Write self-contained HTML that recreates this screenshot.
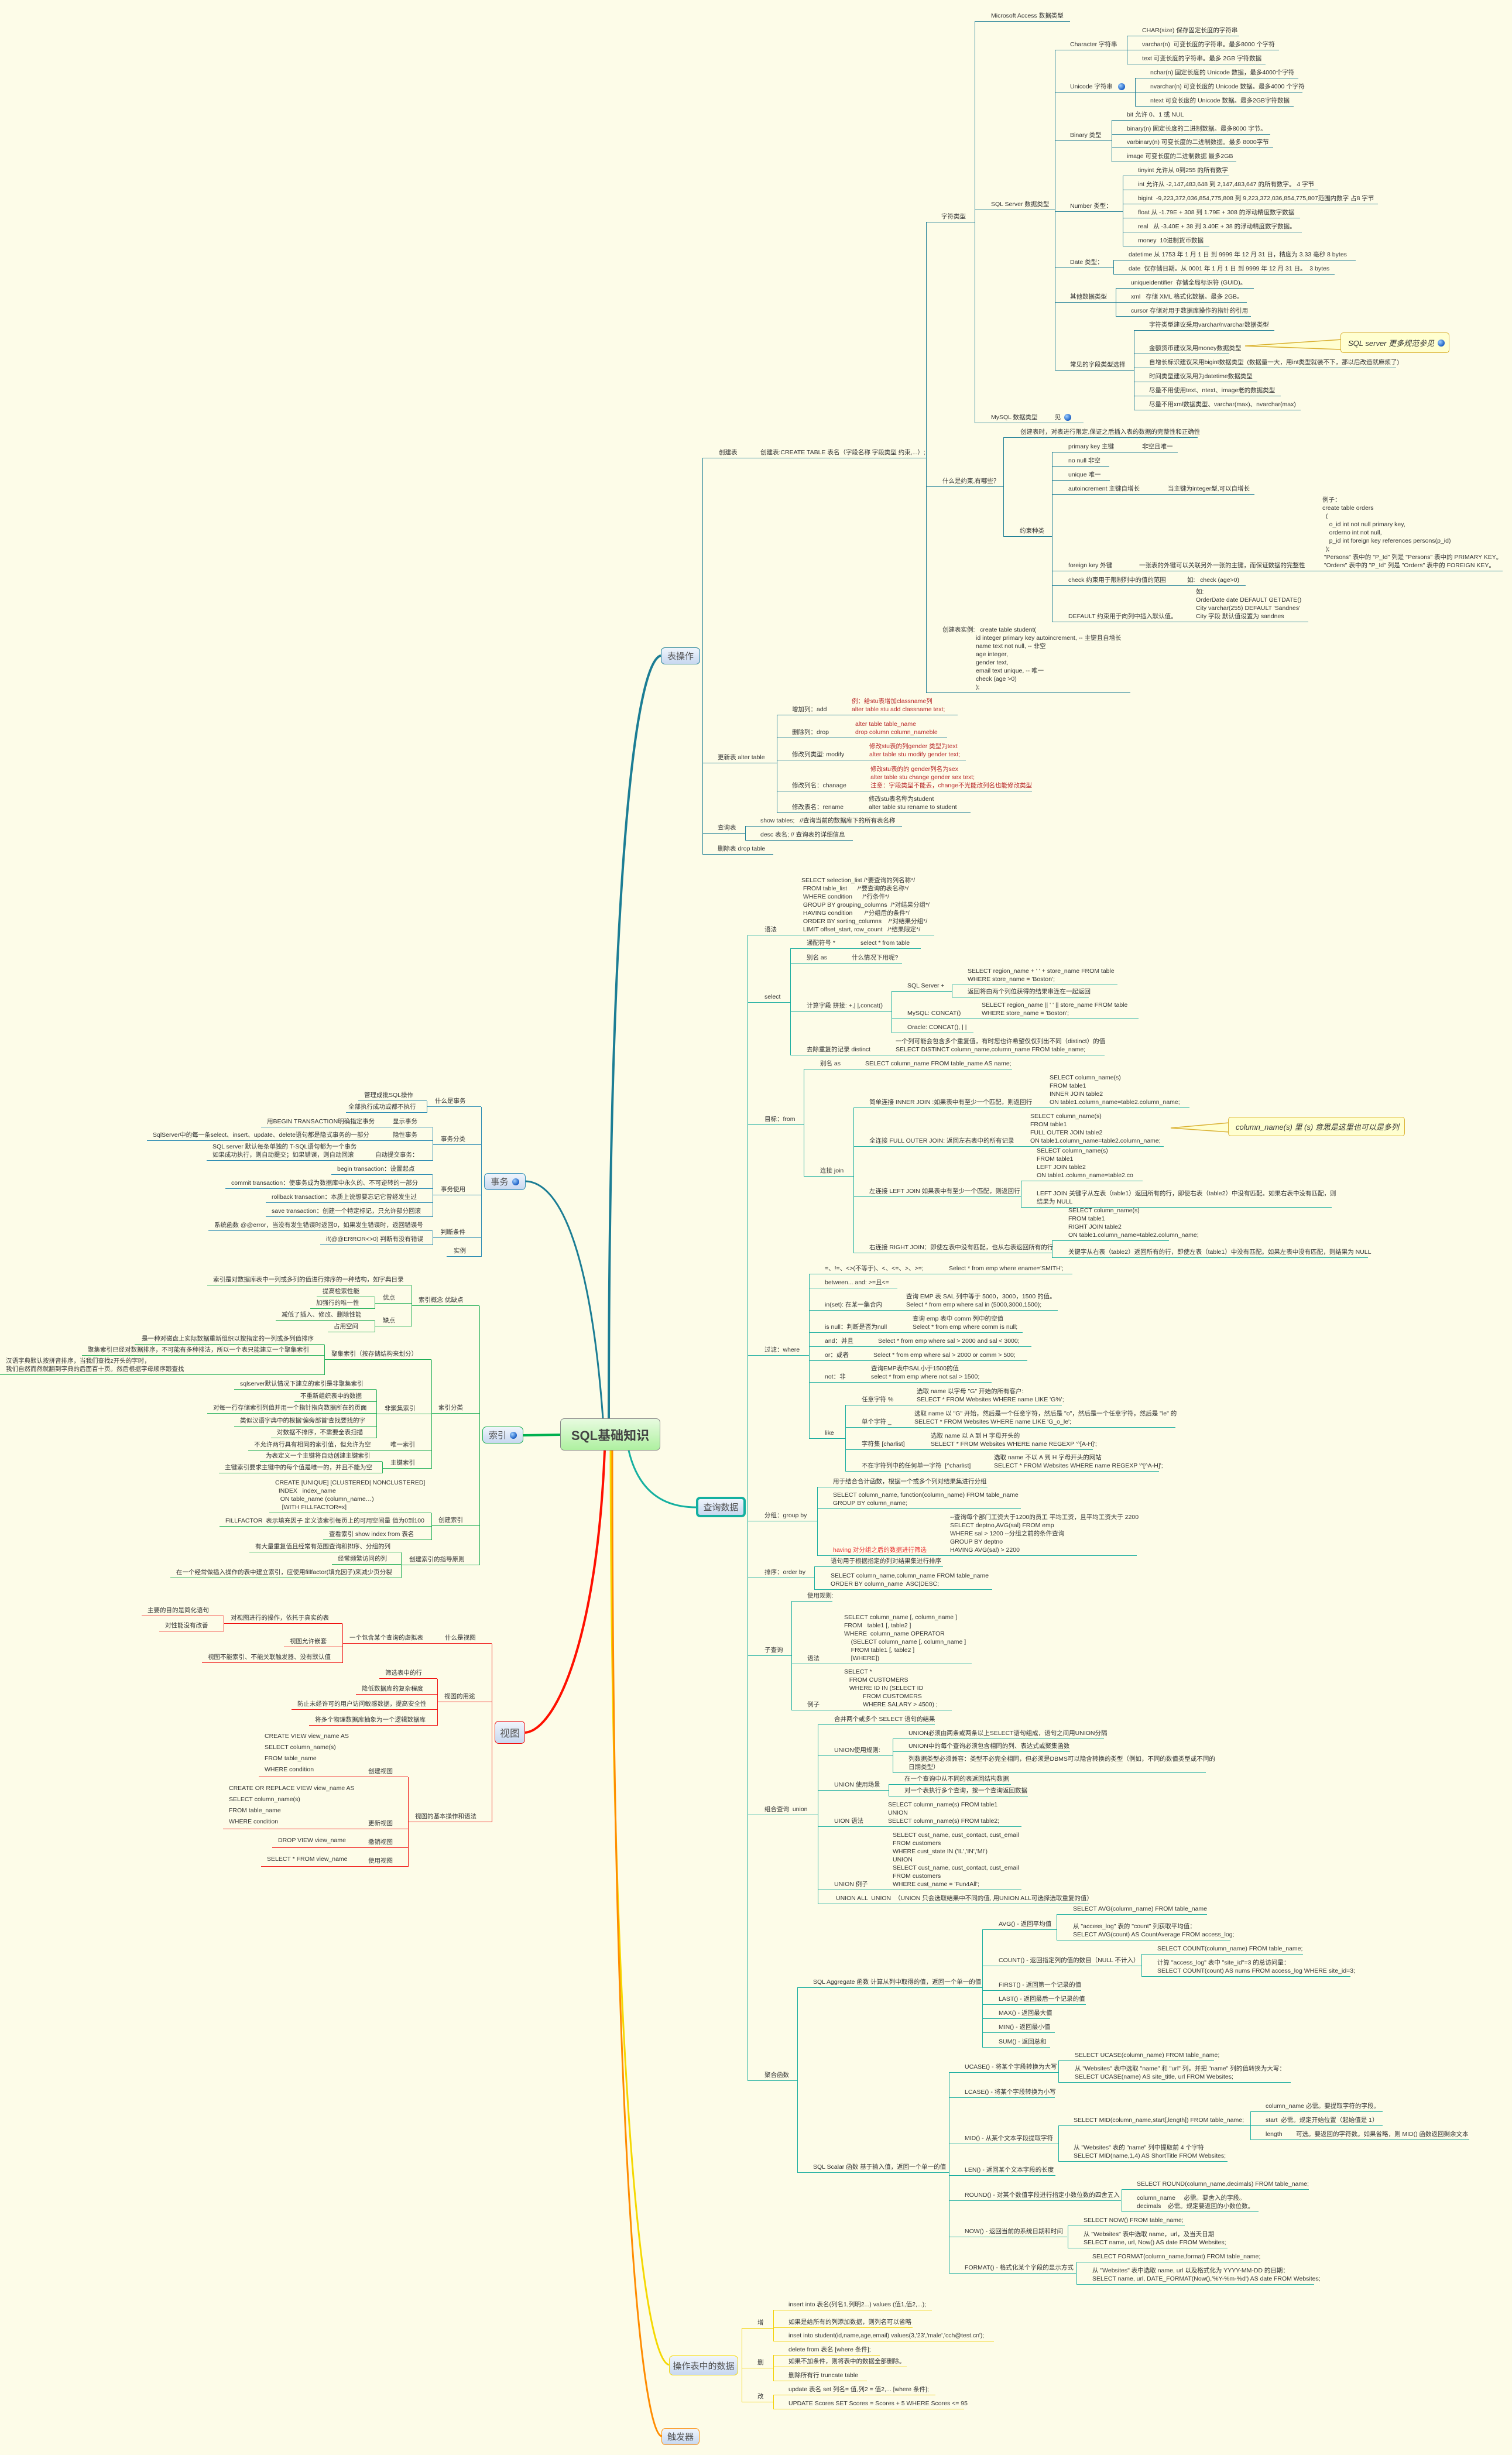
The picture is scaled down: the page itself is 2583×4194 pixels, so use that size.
<!DOCTYPE html>
<html><head><meta charset="utf-8">
<style>
html,body{margin:0;padding:0}
body{width:2583px;height:4194px;position:relative;background:#fdfce8;font-family:"Liberation Sans","Noto Sans CJK SC",sans-serif;color:#333;overflow:hidden}
.l{position:absolute;transform:translateY(-100%);border-bottom:1.5px solid;padding:0 0 2px 26px;white-space:pre;box-sizing:border-box;line-height:14px;font-size:10.5px}
.q{padding-left:10px}
.v{position:absolute;border-left:1.5px solid;width:0}
.b{position:absolute;bottom:2px;white-space:pre;line-height:14px}
.A .l,.A .v{border-color:#1e7e96}
.B .l,.B .v{border-color:#2a8bb3}
.C .l,.C .v{border-color:#1fae56}
.D .l,.D .v{border-color:#f01010}
.E .l,.E .v{border-color:#19ad9f}
.F .l,.F .v{border-color:#f2cf00}
.red{color:#b8282a}
.D .big{font-size:10.5px;line-height:19px}
.node{position:absolute;box-sizing:border-box;border-radius:7px;background:linear-gradient(#f0f5fc,#c8d8f0);font-size:15px;color:#555;display:flex;align-items:center;justify-content:center;white-space:nowrap}
.g{display:inline-block;width:12px;height:12px;border-radius:50%;background:radial-gradient(circle at 35% 35%,#9fd0ff,#1b5fc4 70%);vertical-align:middle;margin-left:6px}
.call{position:absolute;box-sizing:border-box;background:#ffffd0;border:1.5px solid #d9b030;border-radius:5px;font-style:italic;font-size:13px;display:flex;align-items:center;padding-left:12px;white-space:nowrap}
</style></head><body>

<svg width="2583" height="4194" style="position:absolute;left:0;top:0">
<path d="M1040,2423 C1040,1500 1085,1130 1129,1120" stroke="#1b7d94" stroke-width="4" fill="none"/>
<path d="M1030,2423 C1010,2150 960,2020 898,2018" stroke="#1b7d94" stroke-width="3" fill="none"/>
<path d="M957,2451 L894,2452" stroke="#00b050" stroke-width="4" fill="none"/>
<path d="M1033,2478 C1020,2800 950,2955 897,2960" stroke="#ff1000" stroke-width="4" fill="none"/>
<path d="M1043,2478 C1045,3500 1095,4030 1143,4040" stroke="#f5d800" stroke-width="3" fill="none"/>
<path d="M1046,2478 C1046,3600 1092,4150 1130,4162" stroke="#ff8c00" stroke-width="3" fill="none"/>
<path d="M1074,2478 C1090,2545 1130,2575 1189,2575" stroke="#14b0a0" stroke-width="3" fill="none"/>
<path d="M2292,580 L2127,591 L2292,597 Z" fill="#ffffd0" stroke="#d9b030" stroke-width="1.5"/>
<path d="M2100,1918 L2000,1927 L2100,1934 Z" fill="#ffffd0" stroke="#d9b030" stroke-width="1.5"/>
</svg>

<!-- nodes -->
<div class="node" style="left:957px;top:2423px;width:171px;height:55px;background:linear-gradient(#e8fbe0,#aef0a0);border:1.5px solid #888;font-size:22px;font-weight:bold;color:#444">SQL基础知识</div>
<div class="node" style="left:1129px;top:1106px;width:67px;height:29px;border:1.5px solid #1e7e96">表操作</div>
<div class="node" style="left:827px;top:2004px;width:71px;height:29px;border:1.5px solid #2a8bb3">事务<span class="g"></span></div>
<div class="node" style="left:824px;top:2437px;width:70px;height:29px;border:1.5px solid #1fae56">索引<span class="g"></span></div>
<div class="node" style="left:845px;top:2940px;width:52px;height:39px;border:1.5px solid #f01010;font-size:17px">视图</div>
<div class="node" style="left:1189px;top:2557px;width:85px;height:35px;border:4px solid #14b0a0">查询数据</div>
<div class="node" style="left:1143px;top:4024px;width:118px;height:34px;border:1.5px solid #f5d800">操作表中的数据</div>
<div class="node" style="left:1130px;top:4148px;width:65px;height:29px;border:1.5px solid #ff8c00">触发器</div>

<div class="call" style="left:2290px;top:568px;width:186px;height:35px">SQL server 更多规范参见<span class="g"></span></div>
<div class="call" style="left:2098px;top:1908px;width:302px;height:33px">column_name(s) 里 (s) 意思是这里也可以是多列</div>

<!-- ===== A 表操作 ===== -->
<div class="A">
<div class="v" style="left:1200px;top:783px;height:677px"></div>
<div class="l" style="left:1200px;top:783px;width:73px;padding-left:28px">创建表</div>
<div class="l" style="left:1200px;top:1304px;width:127px">更新表 alter table</div>
<div class="l" style="left:1200px;top:1424px;width:73px">查询表</div>
<div class="l" style="left:1200px;top:1460px;width:121px">删除表 drop table</div>
<div class="v" style="left:1273px;top:1412px;height:24px"></div>
<div class="l" style="left:1273px;top:1412px;width:268px">show tables;   //查询当前的数据库下的所有表名称</div>
<div class="l" style="left:1273px;top:1436px;width:184px">desc 表名; // 查询表的详细信息</div>
<div class="l" style="left:1273px;top:783px;width:309px">创建表:CREATE TABLE 表名（字段名称 字段类型 约束,...）;</div>
<div class="v" style="left:1582px;top:380px;height:804px"></div>
<div class="l" style="left:1582px;top:380px;width:83px">字符类型</div>
<div class="l" style="left:1582px;top:832px;width:132px;padding-left:28px">什么是约束,有哪些？</div>
<div class="l" style="left:1582px;top:1184px;width:349px;padding-left:28px">创建表实例:   create table student(
<span style="padding-left:57px">id integer primary key autoincrement, -- 主键且自增长</span>
<span style="padding-left:57px">name text not null, -- 非空</span>
<span style="padding-left:57px">age integer,</span>
<span style="padding-left:57px">gender text,</span>
<span style="padding-left:57px">email text unique, -- 唯一</span>
<span style="padding-left:57px">check (age &gt;0)</span>
<span style="padding-left:57px">);</span></div>
<div class="v" style="left:1665px;top:37px;height:686px"></div>
<div class="l" style="left:1665px;top:37px;width:163px;padding-left:28px">Microsoft Access 数据类型</div>
<div class="l" style="left:1665px;top:359px;width:137px;padding-left:28px">SQL Server 数据类型</div>
<div class="l" style="left:1665px;top:723px;width:186px;padding-left:28px">MySQL 数据类型          见<span class="g"></span></div>
<div class="v" style="left:1802px;top:86px;height:547px"></div>
<div class="l" style="left:1802px;top:86px;width:123px">Character 字符串</div>
<div class="l" style="left:1802px;top:158px;width:137px">Unicode 字符串 <span class="g"></span></div>
<div class="l" style="left:1802px;top:241px;width:97px">Binary 类型</div>
<div class="l" style="left:1802px;top:362px;width:116px">Number 类型：</div>
<div class="l" style="left:1802px;top:458px;width:100px">Date 类型：</div>
<div class="l" style="left:1802px;top:517px;width:104px">其他数据类型</div>
<div class="l" style="left:1802px;top:633px;width:135px">常见的字段类型选择</div>
<div class="v" style="left:1925px;top:62px;height:48px"></div>
<div class="l" style="left:1925px;top:62px;width:192px">CHAR(size) 保存固定长度的字符串</div>
<div class="l" style="left:1925px;top:86px;width:260px">varchar(n)  可变长度的字符串。最多8000 个字符</div>
<div class="l" style="left:1925px;top:110px;width:237px">text 可变长度的字符串。最多 2GB 字符数据</div>
<div class="v" style="left:1939px;top:134px;height:48px"></div>
<div class="l" style="left:1939px;top:134px;width:279px">nchar(n) 固定长度的 Unicode 数据，最多4000个字符</div>
<div class="l" style="left:1939px;top:158px;width:286px">nvarchar(n) 可变长度的 Unicode 数据。最多4000 个字符</div>
<div class="l" style="left:1939px;top:182px;width:271px">ntext 可变长度的 Unicode 数据。最多2GB字符数据</div>
<div class="v" style="left:1899px;top:206px;height:71px"></div>
<div class="l" style="left:1899px;top:206px;width:137px">bit 允许 0、1 或 NUL</div>
<div class="l" style="left:1899px;top:230px;width:271px">binary(n) 固定长度的二进制数据。最多8000 字节。</div>
<div class="l" style="left:1899px;top:253px;width:276px">varbinary(n) 可变长度的二进制数据。最多 8000字节</div>
<div class="l" style="left:1899px;top:277px;width:213px">image 可变长度的二进制数据 最多2GB</div>
<div class="v" style="left:1918px;top:301px;height:120px"></div>
<div class="l" style="left:1918px;top:301px;width:182px">tinyint 允许从 0到255 的所有数字</div>
<div class="l" style="left:1918px;top:325px;width:334px">int 允许从 -2,147,483,648 到 2,147,483,647 的所有数字。 4 字节</div>
<div class="l" style="left:1918px;top:349px;width:436px">bigint  -9,223,372,036,854,775,808 到 9,223,372,036,854,775,807范围内数字 占8 字节</div>
<div class="l" style="left:1918px;top:373px;width:303px">float 从 -1.79E + 308 到 1.79E + 308 的浮动精度数字数据</div>
<div class="l" style="left:1918px;top:397px;width:306px">real   从 -3.40E + 38 到 3.40E + 38 的浮动精度数字数据。</div>
<div class="l" style="left:1918px;top:421px;width:148px">money  10进制货币数据</div>
<div class="v" style="left:1902px;top:445px;height:24px"></div>
<div class="l" style="left:1902px;top:445px;width:414px">datetime 从 1753 年 1 月 1 日 到 9999 年 12 月 31 日，精度为 3.33 毫秒 8 bytes</div>
<div class="l" style="left:1902px;top:469px;width:378px">date  仅存储日期。从 0001 年 1 月 1 日 到 9999 年 12 月 31 日。  3 bytes</div>
<div class="v" style="left:1906px;top:493px;height:48px"></div>
<div class="l" style="left:1906px;top:493px;width:236px">uniqueidentifier  存储全局标识符 (GUID)。</div>
<div class="l" style="left:1906px;top:517px;width:224px">xml   存储 XML 格式化数据。最多 2GB。</div>
<div class="l" style="left:1906px;top:541px;width:231px">cursor 存储对用于数据库操作的指针的引用</div>
<div class="v" style="left:1937px;top:565px;height:136px"></div>
<div class="l" style="left:1937px;top:565px;width:240px">字符类型建议采用varchar/nvarchar数据类型</div>
<div class="l" style="left:1937px;top:605px;width:163px">金额货币建议采用money数据类型</div>
<div class="l" style="left:1937px;top:629px;width:448px">自增长标识建议采用bigint数据类型  (数据量一大，用int类型就装不下，那以后改造就麻烦了)</div>
<div class="l" style="left:1937px;top:653px;width:211px">时间类型建议采用为datetime数据类型</div>
<div class="l" style="left:1937px;top:677px;width:251px">尽量不用使用text、ntext、image老的数据类型</div>
<div class="l" style="left:1937px;top:701px;width:285px">尽量不用xml数据类型、varchar(max)、nvarchar(max)</div>
<div class="v" style="left:1714px;top:748px;height:169px"></div>
<div class="l" style="left:1714px;top:748px;width:332px;padding-left:29px">创建表时，对表进行限定,保证之后插入表的数据的完整性和正确性</div>
<div class="l" style="left:1714px;top:917px;width:83px;padding-left:28px">约束种类</div>
<div class="v" style="left:1797px;top:773px;height:290px"></div>
<div class="l" style="left:1797px;top:773px;width:215px;padding-left:28px">primary key 主键<span class="b" style="left:154px">非空且唯一</span></div>
<div class="l" style="left:1797px;top:797px;width:98px;padding-left:28px">no null 非空</div>
<div class="l" style="left:1797px;top:821px;width:99px;padding-left:28px">unique 唯一</div>
<div class="l" style="left:1797px;top:845px;width:346px;padding-left:28px">autoincrement 主键自增长<span class="b" style="left:198px">当主键为integer型,可以自增长</span></div>
<div class="l" style="left:1797px;top:976px;width:770px;padding-left:28px">foreign key 外键<span class="b" style="left:149px">一张表的外键可以关联另外一张的主键，而保证数据的完整性</span><span class="b" style="left:462px">例子：
create table orders
  (
    o_id int not null primary key,
    orderno int not null,
    p_id int foreign key references persons(p_id)
  );
 "Persons" 表中的 "P_Id" 列是 "Persons" 表中的 PRIMARY KEY。
 "Orders" 表中的 "P_Id" 列是 "Orders" 表中的 FOREIGN KEY。</span></div>
<div class="l" style="left:1797px;top:1001px;width:331px;padding-left:28px">check 约束用于限制列中的值的范围<span class="b" style="left:231px">如:   check (age&gt;0)</span></div>
<div class="l" style="left:1797px;top:1063px;width:438px;padding-left:28px">DEFAULT 约束用于向列中插入默认值。<span class="b" style="left:246px">如:
OrderDate date DEFAULT GETDATE()
City varchar(255) DEFAULT 'Sandnes'
City 字段 默认值设置为 sandnes</span></div>
<div class="v" style="left:1327px;top:1222px;height:167px"></div>
<div class="l" style="left:1327px;top:1222px;width:309px">增加列：add<span class="b red" style="left:128px">例：给stu表增加classname列
alter table stu add classname text;</span></div>
<div class="l" style="left:1327px;top:1261px;width:291px">删除列：drop<span class="b red" style="left:134px">alter table table_name
drop column column_nameble</span></div>
<div class="l" style="left:1327px;top:1299px;width:323px">修改列类型: modify<span class="b red" style="left:158px">修改stu表的列gender 类型为text
alter table stu modify gender text;</span></div>
<div class="l" style="left:1327px;top:1352px;width:436px">修改列名：chanage<span class="b red" style="left:160px">修改stu表的的 gender列名为sex
alter table stu change gender sex text;
注意：字段类型不能丢，change不光能改列名也能修改类型</span></div>
<div class="l" style="left:1327px;top:1389px;width:331px">修改表名：rename<span class="b" style="left:157px">修改stu表名称为student
alter table stu rename to student</span></div>
</div>

<!-- ===== B 事务 ===== -->
<div class="B">
<div class="v" style="left:822px;top:1891px;height:256px"></div>
<div class="l q" style="left:729px;top:1891px;width:93px;padding-left:14px">什么是事务</div>
<div class="v" style="left:729px;top:1881px;height:20px"></div>
<div class="l q" style="left:612px;top:1881px;width:117px">管理成批SQL操作</div>
<div class="l q" style="left:591px;top:1901px;width:138px;padding-left:4px">全部执行成功或都不执行</div>
<div class="l q" style="left:739px;top:1956px;width:83px;padding-left:14px">事务分类</div>
<div class="v" style="left:739px;top:1926px;height:57px"></div>
<div class="l q" style="left:446px;top:1926px;width:293px">用BEGIN TRANSACTION明确指定事务<span class="b" style="left:225px">显示事务</span></div>
<div class="l q" style="left:251px;top:1949px;width:488px">SqlServer中的每一条select、insert、update、delete语句都是隐式事务的一部分<span class="b" style="left:420px">隐性事务</span></div>
<div class="l q" style="left:353px;top:1983px;width:386px">SQL server 默认每条单独的 T-SQL语句都为一个事务
如果成功执行，则自动提交；如果错误，则自动回滚<span class="b" style="left:288px">自动提交事务：</span></div>
<div class="l q" style="left:739px;top:2042px;width:83px;padding-left:14px">事务使用</div>
<div class="v" style="left:739px;top:2007px;height:72px"></div>
<div class="l q" style="left:566px;top:2007px;width:173px">begin transaction：设置起点</div>
<div class="l q" style="left:385px;top:2031px;width:354px">commit transaction：使事务成为数据库中永久的、不可逆转的一部分</div>
<div class="l q" style="left:454px;top:2055px;width:285px">rollback transaction：本质上说想要忘记它曾经发生过</div>
<div class="l q" style="left:454px;top:2079px;width:285px">save transaction：创建一个特定标记，只允许部分回滚</div>
<div class="l q" style="left:739px;top:2115px;width:83px;padding-left:14px">判断条件</div>
<div class="v" style="left:739px;top:2103px;height:24px"></div>
<div class="l q" style="left:356px;top:2103px;width:383px">系统函数 @@error，当没有发生错误时返回0，如果发生错误时，返回错误号</div>
<div class="l q" style="left:547px;top:2127px;width:192px">if(@@ERROR&lt;&gt;0) 判断有没有错误</div>
<div class="l q" style="left:763px;top:2147px;width:59px;padding-left:12px">实例</div>
</div>

<!-- ===== C 索引 ===== -->
<div class="C">
<div class="v" style="left:819px;top:2231px;height:443px"></div>
<div class="l q" style="left:703px;top:2231px;width:116px;padding-left:12px">索引概念 优缺点</div>
<div class="v" style="left:703px;top:2196px;height:70px"></div>
<div class="l q" style="left:354px;top:2196px;width:349px">索引是对数据库表中一列或多列的值进行排序的一种结构，如字典目录</div>
<div class="l q" style="left:640px;top:2227px;width:63px;padding-left:14px">优点</div>
<div class="v" style="left:640px;top:2216px;height:20px"></div>
<div class="l q" style="left:541px;top:2216px;width:99px">提高检索性能</div>
<div class="l q" style="left:530px;top:2236px;width:110px">加强行的唯一性</div>
<div class="l q" style="left:640px;top:2266px;width:63px;padding-left:14px">缺点</div>
<div class="v" style="left:640px;top:2256px;height:20px"></div>
<div class="l q" style="left:471px;top:2256px;width:169px">减低了插入、修改、删除性能</div>
<div class="l q" style="left:560px;top:2276px;width:80px">占用空间</div>
<div class="l q" style="left:737px;top:2415px;width:82px;padding-left:12px">索引分类</div>
<div class="v" style="left:737px;top:2323px;height:186px"></div>
<div class="l q" style="left:554px;top:2323px;width:183px;padding-left:12px">聚集索引（按存储结构来划分）</div>
<div class="v" style="left:554px;top:2297px;height:52px"></div>
<div class="l q" style="left:230px;top:2297px;width:324px;padding-left:12px">是一种对磁盘上实际数据重新组织以按指定的一列或多列值排序</div>
<div class="l q" style="left:140px;top:2316px;width:414px">聚集索引已经对数据排序，不可能有多种排法，所以一个表只能建立一个聚集索引</div>
<div class="l q" style="left:0px;top:2349px;width:554px">汉语字典默认按拼音排序，当我们查找z开头的字时，
我们自然而然就翻到字典的后面百十页。然后根据字母顺序跟查找</div>
<div class="l q" style="left:643px;top:2416px;width:94px;padding-left:14px">非聚集索引</div>
<div class="v" style="left:643px;top:2374px;height:83px"></div>
<div class="l q" style="left:400px;top:2374px;width:243px">sqlserver默认情况下建立的索引是非聚集索引</div>
<div class="l q" style="left:503px;top:2395px;width:140px">不重新组织表中的数据</div>
<div class="l q" style="left:354px;top:2415px;width:289px">对每一行存储索引列值并用一个指针指向数据所在的页面</div>
<div class="l q" style="left:400px;top:2437px;width:243px">类似汉语字典中的根据'偏旁部首'查找要找的字</div>
<div class="l q" style="left:463px;top:2457px;width:180px">对数据不排序，不需要全表扫描</div>
<div class="l q" style="left:424px;top:2478px;width:313px">不允许两行具有相同的索引值，但允许为空<span class="b" style="left:243px">唯一索引</span></div>
<div class="l q" style="left:653px;top:2509px;width:84px;padding-left:14px">主键索引</div>
<div class="v" style="left:653px;top:2497px;height:20px"></div>
<div class="l q" style="left:444px;top:2497px;width:209px">为表定义一个主键将自动创建主键索引</div>
<div class="l q" style="left:374px;top:2517px;width:279px">主键索引要求主键中的每个值是唯一的，并且不能为空</div>
<div class="l q" style="left:737px;top:2607px;width:82px;padding-left:12px">创建索引</div>
<div class="v" style="left:737px;top:2585px;height:46px"></div>
<div class="l q" style="left:460px;top:2585px;width:277px">CREATE [UNIQUE] [CLUSTERED| NONCLUSTERED]
  INDEX   index_name
   ON table_name (column_name…)
    [WITH FILLFACTOR=x]</div>
<div class="l q" style="left:375px;top:2608px;width:362px">FILLFACTOR  表示填充因子 定义该索引每页上的可用空间量 值为0到100</div>
<div class="l q" style="left:552px;top:2631px;width:185px">查看索引 show index from 表名</div>
<div class="l q" style="left:685px;top:2674px;width:134px;padding-left:14px">创建索引的指导原则</div>
<div class="v" style="left:685px;top:2652px;height:44px"></div>
<div class="l q" style="left:426px;top:2652px;width:259px">有大量重复值且经常有范围查询和排序、分组的列</div>
<div class="l q" style="left:567px;top:2673px;width:118px">经常频繁访问的列</div>
<div class="l q" style="left:291px;top:2696px;width:394px">在一个经常做插入操作的表中建立索引，应使用fillfactor(填充因子)来减少页分裂</div>
</div>

<!-- ===== D 视图 ===== -->
<div class="D">
<div class="v" style="left:840px;top:2808px;height:305px"></div>
<div class="l q" style="left:748px;top:2808px;width:92px;padding-left:12px">什么是视图</div>
<div class="l q" style="left:585px;top:2808px;width:163px;padding-left:12px">一个包含某个查询的虚拟表</div>
<div class="v" style="left:585px;top:2774px;height:67px"></div>
<div class="l q" style="left:382px;top:2774px;width:203px;padding-left:12px">对视图进行的操作，依托于真实的表</div>
<div class="v" style="left:382px;top:2761px;height:26px"></div>
<div class="l q" style="left:242px;top:2761px;width:140px">主要的目的是简化语句</div>
<div class="l q" style="left:272px;top:2787px;width:110px">对性能没有改善</div>
<div class="l q" style="left:485px;top:2814px;width:100px">视图允许嵌套</div>
<div class="l q" style="left:345px;top:2841px;width:240px">视图不能索引、不能关联触发器、没有默认值</div>
<div class="l q" style="left:747px;top:2908px;width:93px;padding-left:12px">视图的用途</div>
<div class="v" style="left:747px;top:2868px;height:80px"></div>
<div class="l q" style="left:648px;top:2868px;width:99px">筛选表中的行</div>
<div class="l q" style="left:608px;top:2895px;width:139px">降低数据库的复杂程度</div>
<div class="l q" style="left:498px;top:2921px;width:249px">防止未经许可的用户访问敏感数据，提高安全性</div>
<div class="l q" style="left:528px;top:2948px;width:219px">将多个物理数据库抽象为一个逻辑数据库</div>
<div class="l q" style="left:697px;top:3113px;width:143px;padding-left:12px">视图的基本操作和语法</div>
<div class="v" style="left:697px;top:3036px;height:153px"></div>
<div class="l q big" style="left:442px;top:3036px;width:255px">CREATE VIEW view_name AS
SELECT column_name(s)
FROM table_name
WHERE condition<span class="b" style="left:187px;line-height:14px">创建视图</span></div>
<div class="l q big" style="left:381px;top:3125px;width:316px">CREATE OR REPLACE VIEW view_name AS
SELECT column_name(s)
FROM table_name
WHERE condition<span class="b" style="left:248px;line-height:14px">更新视图</span></div>
<div class="l q big" style="left:465px;top:3157px;width:232px">DROP VIEW view_name<span class="b" style="left:164px;line-height:14px">撤销视图</span></div>
<div class="l q big" style="left:446px;top:3189px;width:251px">SELECT * FROM view_name<span class="b" style="left:183px;line-height:14px">使用视图</span></div>
</div>

<!-- ===== E 查询数据 ===== -->
<div class="E">
<div class="v" style="left:1277px;top:1598px;height:1957px"></div>
<div class="l" style="left:1277px;top:1598px;width:319px;padding-left:29px">语法<span class="b" style="left:92px">SELECT selection_list /*要查询的列名称*/
 FROM table_list      /*要查询的表名称*/
 WHERE condition      /*行条件*/
 GROUP BY grouping_columns  /*对结果分组*/
 HAVING condition       /*分组后的条件*/
 ORDER BY sorting_columns    /*对结果分组*/
 LIMIT offset_start, row_count   /*结果限定*/</span></div>
<div class="l" style="left:1277px;top:1713px;width:73px;padding-left:29px">select</div>
<div class="v" style="left:1350px;top:1621px;height:182px"></div>
<div class="l" style="left:1350px;top:1621px;width:223px;padding-left:28px">通配符号 *<span class="b" style="left:120px">select * from table</span></div>
<div class="l" style="left:1350px;top:1646px;width:191px;padding-left:28px">别名 as<span class="b" style="left:105px">什么情况下用呢?</span></div>
<div class="l" style="left:1350px;top:1728px;width:173px;padding-left:28px">计算字段 拼接: +,| |,concat()</div>
<div class="v" style="left:1523px;top:1694px;height:71px"></div>
<div class="l" style="left:1523px;top:1694px;width:103px;padding-left:27px">SQL Server +</div>
<div class="v" style="left:1626px;top:1683px;height:21px"></div>
<div class="l" style="left:1626px;top:1683px;width:283px;padding-left:27px">SELECT region_name + ' ' + store_name FROM table
WHERE store_name = 'Boston';</div>
<div class="l" style="left:1626px;top:1704px;width:234px;padding-left:27px">返回将由两个列位获得的结果串连在一起返回</div>
<div class="l" style="left:1523px;top:1741px;width:422px;padding-left:27px">MySQL: CONCAT()<span class="b" style="left:154px">SELECT region_name || ' ' || store_name FROM table
WHERE store_name = 'Boston';</span></div>
<div class="l" style="left:1523px;top:1765px;width:140px;padding-left:27px">Oracle: CONCAT(), | |</div>
<div class="l" style="left:1350px;top:1803px;width:537px;padding-left:28px">去除重复的记录 distinct<span class="b" style="left:180px">一个列可能会包含多个重复值，有时您也许希望仅仅列出不同（distinct）的值
SELECT DISTINCT column_name,column_name FROM table_name;</span></div>
<div class="l" style="left:1277px;top:1922px;width:96px;padding-left:29px">目标：from</div>
<div class="v" style="left:1373px;top:1827px;height:183px"></div>
<div class="l" style="left:1373px;top:1827px;width:356px;padding-left:28px">别名 as<span class="b" style="left:105px">SELECT column_name FROM table_name AS name;</span></div>
<div class="l" style="left:1373px;top:2010px;width:85px;padding-left:28px">连接 join</div>
<div class="v" style="left:1458px;top:1893px;height:248px"></div>
<div class="l" style="left:1458px;top:1893px;width:574px;padding-left:27px">简单连接 INNER JOIN :如果表中有至少一个匹配，则返回行<span class="b" style="left:335px">SELECT column_name(s)
FROM table1
INNER JOIN table2
ON table1.column_name=table2.column_name;</span></div>
<div class="l" style="left:1458px;top:1959px;width:530px;padding-left:27px">全连接 FULL OUTER JOIN: 返回左右表中的所有记录<span class="b" style="left:302px">SELECT column_name(s)
FROM table1
FULL OUTER JOIN table2
ON table1.column_name=table2.column_name;</span></div>
<div class="l" style="left:1458px;top:2045px;width:286px;padding-left:27px">左连接 LEFT JOIN 如果表中有至少一个匹配，则返回行</div>
<div class="v" style="left:1744px;top:2018px;height:45px"></div>
<div class="l" style="left:1744px;top:2018px;width:208px;padding-left:27px">SELECT column_name(s)
FROM table1
LEFT JOIN table2
ON table1.column_name=table2.co</div>
<div class="l" style="left:1744px;top:2063px;width:531px;padding-left:27px">LEFT JOIN 关键字从左表（table1）返回所有的行，即使右表（table2）中没有匹配。如果右表中没有匹配，则
结果为 NULL</div>
<div class="l" style="left:1458px;top:2141px;width:339px;padding-left:27px">右连接 RIGHT JOIN：即使左表中没有匹配，也从右表返回所有的行</div>
<div class="v" style="left:1797px;top:2120px;height:29px"></div>
<div class="l" style="left:1797px;top:2120px;width:200px;padding-left:28px">SELECT column_name(s)
FROM table1
RIGHT JOIN table2
ON table1.column_name=table2.column_name;</div>
<div class="l" style="left:1797px;top:2149px;width:540px;padding-left:28px">关键字从右表（table2）返回所有的行，即使左表（table1）中没有匹配。如果左表中没有匹配，则结果为 NULL</div>

<div class="l" style="left:1277px;top:2316px;width:105px;padding-left:29px">过滤：where</div>
<div class="v" style="left:1382px;top:2177px;height:281px"></div>
<div class="l" style="left:1382px;top:2177px;width:450px;padding-left:27px">=、!=、&lt;&gt;(不等于)、&lt;、&lt;=、&gt;、&gt;=;<span class="b" style="left:239px">Select * from emp where ename='SMITH';</span></div>
<div class="l" style="left:1382px;top:2201px;width:151px;padding-left:27px">between... and: &gt;=且&lt;=</div>
<div class="l" style="left:1382px;top:2239px;width:425px;padding-left:27px">in(set): 在某一集合内<span class="b" style="left:166px">查询 EMP 表 SAL 列中等于 5000，3000，1500 的值。
Select * from emp where sal in (5000,3000,1500);</span></div>
<div class="l" style="left:1382px;top:2277px;width:365px;padding-left:27px">is null：判断是否为null<span class="b" style="left:177px">查询 emp 表中 comm 列中的空值
Select * from emp where comm is null;</span></div>
<div class="l" style="left:1382px;top:2301px;width:380px;padding-left:27px">and：并且<span class="b" style="left:118px">Select * from emp where sal &gt; 2000 and sal &lt; 3000;</span></div>
<div class="l" style="left:1382px;top:2325px;width:373px;padding-left:27px">or：或者<span class="b" style="left:110px">Select * from emp where sal &gt; 2000 or comm &gt; 500;</span></div>
<div class="l" style="left:1382px;top:2362px;width:312px;padding-left:27px">not：非<span class="b" style="left:106px">查询EMP表中SAL小于1500的值
select * from emp where not sal &gt; 1500;</span></div>
<div class="l" style="left:1382px;top:2458px;width:62px;padding-left:27px">like</div>
<div class="v" style="left:1444px;top:2401px;height:113px"></div>
<div class="l" style="left:1444px;top:2401px;width:370px;padding-left:28px">任意字符 %<span class="b" style="left:122px">选取 name 以字母 "G" 开始的所有客户:
SELECT * FROM Websites WHERE name LIKE 'G%';</span></div>
<div class="l" style="left:1444px;top:2439px;width:564px;padding-left:28px">单个字符 _<span class="b" style="left:118px">选取 name 以 "G" 开始，然后是一个任意字符，然后是 "o"，然后是一个任意字符，然后是 "le" 的
SELECT * FROM Websites WHERE name LIKE 'G_o_le';</span></div>
<div class="l" style="left:1444px;top:2477px;width:423px;padding-left:28px">字符集 [charlist]<span class="b" style="left:146px">选取 name 以 A 到 H 字母开头的
SELECT * FROM Websites WHERE name REGEXP '^[A-H]';</span></div>
<div class="l" style="left:1444px;top:2514px;width:536px;padding-left:28px">不在字符列中的任何单一字符  [^charlist]<span class="b" style="left:254px">选取 name 不以 A 到 H 字母开头的网站
SELECT * FROM Websites WHERE name REGEXP '^[^A-H]';</span></div>

<div class="l" style="left:1277px;top:2599px;width:119px;padding-left:29px">分组：group by</div>
<div class="v" style="left:1396px;top:2541px;height:117px"></div>
<div class="l" style="left:1396px;top:2541px;width:291px;padding-left:27px">用于结合合计函数，根据一个或多个列对结果集进行分组</div>
<div class="l" style="left:1396px;top:2578px;width:348px;padding-left:27px">SELECT column_name, function(column_name) FROM table_name
GROUP BY column_name;</div>
<div class="l" style="left:1396px;top:2658px;width:546px;padding-left:27px"><span class="red" style="color:#e83030">having 对分组之后的数据进行筛选</span><span class="b" style="left:227px">--查询每个部门工资大于1200的员工 平均工资，且平均工资大于 2200
SELECT deptno,AVG(sal) FROM emp
WHERE sal &gt; 1200 --分组之前的条件查询
GROUP BY deptno
HAVING AVG(sal) &gt; 2200</span></div>
<div class="l" style="left:1277px;top:2696px;width:114px;padding-left:29px">排序：order by</div>
<div class="v" style="left:1391px;top:2677px;height:39px"></div>
<div class="l" style="left:1391px;top:2677px;width:220px;padding-left:28px">语句用于根据指定的列对结果集进行排序</div>
<div class="l" style="left:1391px;top:2716px;width:304px;padding-left:28px">SELECT column_name,column_name FROM table_name
ORDER BY column_name  ASC|DESC;</div>
<div class="l" style="left:1277px;top:2829px;width:75px;padding-left:29px">子查询</div>
<div class="v" style="left:1352px;top:2736px;height:186px"></div>
<div class="l" style="left:1352px;top:2736px;width:70px;padding-left:27px">使用规则:</div>
<div class="l" style="left:1352px;top:2843px;width:308px;padding-left:27px">语法<span class="b" style="left:90px">SELECT column_name [, column_name ]
FROM   table1 [, table2 ]
WHERE  column_name OPERATOR
    (SELECT column_name [, column_name ]
    FROM table1 [, table2 ]
    [WHERE])</span></div>
<div class="l" style="left:1352px;top:2922px;width:274px;padding-left:27px">例子<span class="b" style="left:90px">SELECT *
   FROM CUSTOMERS
   WHERE ID IN (SELECT ID
           FROM CUSTOMERS
           WHERE SALARY &gt; 4500) ;</span></div>
<div class="l" style="left:1277px;top:3101px;width:120px;padding-left:29px">组合查询  union</div>
<div class="v" style="left:1397px;top:2947px;height:306px"></div>
<div class="l" style="left:1397px;top:2947px;width:200px;padding-left:28px">合并两个或多个 SELECT 语句的结果</div>
<div class="l" style="left:1397px;top:3000px;width:128px;padding-left:28px">UNION使用规则:</div>
<div class="v" style="left:1525px;top:2971px;height:58px"></div>
<div class="l" style="left:1525px;top:2971px;width:361px;padding-left:27px">UNION必须由两条或两条以上SELECT语句组成，语句之间用UNION分隔</div>
<div class="l" style="left:1525px;top:2993px;width:303px;padding-left:27px">UNION中的每个查询必须包含相同的列、表达式或聚集函数</div>
<div class="l" style="left:1525px;top:3029px;width:535px;padding-left:27px">列数据类型必须兼容：类型不必完全相同，但必须是DBMS可以隐含转换的类型（例如，不同的数值类型或不同的
日期类型）</div>
<div class="l" style="left:1397px;top:3059px;width:121px;padding-left:28px">UNION 使用场景</div>
<div class="v" style="left:1518px;top:3049px;height:20px"></div>
<div class="l" style="left:1518px;top:3049px;width:209px;padding-left:27px">在一个查询中从不同的表返回结构数据</div>
<div class="l" style="left:1518px;top:3069px;width:238px;padding-left:27px">对一个表执行多个查询，按一个查询返回数据</div>
<div class="l" style="left:1397px;top:3121px;width:348px;padding-left:28px">UION 语法<span class="b" style="left:120px">SELECT column_name(s) FROM table1
UNION
SELECT column_name(s) FROM table2;</span></div>
<div class="l" style="left:1397px;top:3229px;width:348px;padding-left:28px">UNION 例子<span class="b" style="left:128px">SELECT cust_name, cust_contact, cust_email
FROM customers
WHERE cust_state IN ('IL','IN','MI')
UNION
SELECT cust_name, cust_contact, cust_email
FROM customers
WHERE cust_name = 'Fun4All';</span></div>
<div class="l" style="left:1397px;top:3253px;width:464px;padding-left:31px">UNION ALL  UNION  （UNION 只会选取结果中不同的值, 用UNION ALL可选择选取重复的值）</div>

<div class="l" style="left:1277px;top:3555px;width:85px;padding-left:29px">聚合函数</div>
<div class="v" style="left:1362px;top:3396px;height:316px"></div>
<div class="l" style="left:1362px;top:3396px;width:316px;padding-left:27px">SQL Aggregate 函数 计算从列中取得的值，返回一个单一的值</div>
<div class="v" style="left:1678px;top:3297px;height:201px"></div>
<div class="l" style="left:1678px;top:3297px;width:127px;padding-left:28px">AVG() - 返回平均值</div>
<div class="v" style="left:1805px;top:3271px;height:44px"></div>
<div class="l" style="left:1805px;top:3271px;width:257px;padding-left:28px">SELECT AVG(column_name) FROM table_name</div>
<div class="l" style="left:1805px;top:3315px;width:297px;padding-left:28px">从 "access_log" 表的 "count" 列获取平均值：
SELECT AVG(count) AS CountAverage FROM access_log;</div>
<div class="l" style="left:1678px;top:3359px;width:272px;padding-left:28px">COUNT() - 返回指定列的值的数目（NULL 不计入）</div>
<div class="v" style="left:1950px;top:3339px;height:38px"></div>
<div class="l" style="left:1950px;top:3339px;width:276px;padding-left:27px">SELECT COUNT(column_name) FROM table_name;</div>
<div class="l" style="left:1950px;top:3377px;width:357px;padding-left:27px">计算 "access_log" 表中 "site_id"=3 的总访问量：
SELECT COUNT(count) AS nums FROM access_log WHERE site_id=3;</div>
<div class="l" style="left:1678px;top:3401px;width:169px;padding-left:28px">FIRST() - 返回第一个记录的值</div>
<div class="l" style="left:1678px;top:3425px;width:177px;padding-left:28px">LAST() - 返回最后一个记录的值</div>
<div class="l" style="left:1678px;top:3449px;width:116px;padding-left:28px">MAX() - 返回最大值</div>
<div class="l" style="left:1678px;top:3473px;width:124px;padding-left:28px">MIN() - 返回最小值</div>
<div class="l" style="left:1678px;top:3498px;width:116px;padding-left:28px">SUM() - 返回总和</div>
<div class="l" style="left:1362px;top:3712px;width:259px;padding-left:27px">SQL Scalar 函数 基于输入值，返回一个单一的值</div>
<div class="v" style="left:1621px;top:3541px;height:343px"></div>
<div class="l" style="left:1621px;top:3541px;width:187px;padding-left:27px">UCASE() - 将某个字段转换为大写</div>
<div class="v" style="left:1808px;top:3521px;height:37px"></div>
<div class="l" style="left:1808px;top:3521px;width:266px;padding-left:28px">SELECT UCASE(column_name) FROM table_name;</div>
<div class="l" style="left:1808px;top:3558px;width:397px;padding-left:28px">从 "Websites" 表中选取 "name" 和 "url" 列，并把 "name" 列的值转换为大写：
SELECT UCASE(name) AS site_title, url FROM Websites;</div>
<div class="l" style="left:1621px;top:3584px;width:181px;padding-left:27px">LCASE() - 将某个字段转换为小写</div>
<div class="l" style="left:1621px;top:3663px;width:187px;padding-left:27px">MID() - 从某个文本字段提取字符</div>
<div class="v" style="left:1808px;top:3632px;height:61px"></div>
<div class="l" style="left:1808px;top:3632px;width:328px;padding-left:26px">SELECT MID(column_name,start[,length]) FROM table_name;</div>
<div class="v" style="left:2136px;top:3608px;height:48px"></div>
<div class="l" style="left:2136px;top:3608px;width:226px">column_name 必需。要提取字符的字段。</div>
<div class="l" style="left:2136px;top:3632px;width:226px">start  必需。规定开始位置（起始值是 1）</div>
<div class="l" style="left:2136px;top:3656px;width:374px">length        可选。要返回的字符数。如果省略，则 MID() 函数返回剩余文本</div>
<div class="l" style="left:1808px;top:3693px;width:289px;padding-left:26px">从 "Websites" 表的 "name" 列中提取前 4 个字符
SELECT MID(name,1,4) AS ShortTitle FROM Websites;</div>
<div class="l" style="left:1621px;top:3717px;width:182px;padding-left:27px">LEN() - 返回某个文本字段的长度</div>
<div class="l" style="left:1621px;top:3760px;width:294px;padding-left:27px">ROUND() - 对某个数值字段进行指定小数位数的四舍五入</div>
<div class="v" style="left:1916px;top:3741px;height:38px"></div>
<div class="l" style="left:1916px;top:3741px;width:320px">SELECT ROUND(column_name,decimals) FROM table_name;</div>
<div class="l" style="left:1916px;top:3779px;width:234px">column_name     必需。要舍入的字段。
decimals    必需。规定要返回的小数位数。</div>
<div class="l" style="left:1621px;top:3822px;width:202px;padding-left:27px">NOW() - 返回当前的系统日期和时间</div>
<div class="v" style="left:1824px;top:3803px;height:38px"></div>
<div class="l" style="left:1824px;top:3803px;width:200px;padding-left:27px">SELECT NOW() FROM table_name;</div>
<div class="l" style="left:1824px;top:3841px;width:273px;padding-left:27px">从 "Websites" 表中选取 name，url，及当天日期
SELECT name, url, Now() AS date FROM Websites;</div>
<div class="l" style="left:1621px;top:3884px;width:217px;padding-left:27px">FORMAT() - 格式化某个字段的显示方式</div>
<div class="v" style="left:1839px;top:3865px;height:38px"></div>
<div class="l" style="left:1839px;top:3865px;width:314px;padding-left:27px">SELECT FORMAT(column_name,format) FROM table_name;</div>
<div class="l" style="left:1839px;top:3903px;width:406px;padding-left:27px">从 "Websites" 表中选取 name, url 以及格式化为 YYYY-MM-DD 的日期：
SELECT name, url, DATE_FORMAT(Now(),'%Y-%m-%d') AS date FROM Websites;</div>
</div>

<!-- ===== F 操作表中的数据 ===== -->
<div class="F">
<div class="v" style="left:1267px;top:3978px;height:126px"></div>
<div class="l" style="left:1267px;top:3978px;width:54px;padding-left:27px">增</div>
<div class="l" style="left:1267px;top:4046px;width:54px;padding-left:27px">删</div>
<div class="l" style="left:1267px;top:4104px;width:54px;padding-left:27px">改</div>
<div class="v" style="left:1321px;top:3947px;height:53px"></div>
<div class="l" style="left:1321px;top:3947px;width:271px">insert into 表名(列名1,列明2...) values (值1,值2,...);</div>
<div class="l" style="left:1321px;top:3977px;width:238px">如果是给所有的列添加数据，则列名可以省略</div>
<div class="l" style="left:1321px;top:4000px;width:377px">inset into student(id,name,age,email) values(3,'23','male','cch@test.cn');</div>
<div class="v" style="left:1321px;top:4024px;height:44px"></div>
<div class="l" style="left:1321px;top:4024px;width:182px">delete from 表名 [where 条件];</div>
<div class="l" style="left:1321px;top:4044px;width:228px">如果不加条件，则将表中的数据全部删除。</div>
<div class="l" style="left:1321px;top:4068px;width:160px">删除所有行 truncate table</div>
<div class="v" style="left:1321px;top:4092px;height:24px"></div>
<div class="l" style="left:1321px;top:4092px;width:277px">update 表名 set 列名= 值,列2 = 值2,... [where 条件];</div>
<div class="l" style="left:1321px;top:4116px;width:326px">UPDATE Scores SET Scores = Scores + 5 WHERE Scores &lt;= 95</div>
</div>

</body></html>
